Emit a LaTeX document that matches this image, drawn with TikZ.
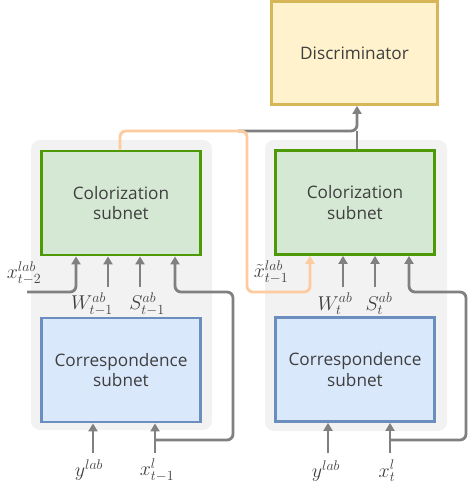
\RequirePackage{fix-cm}
\documentclass[tikz,border=0pt]{standalone}
\usepackage{fontspec}
\setmainfont{Open Sans}
\usetikzlibrary{arrows.meta,calc}
\definecolor{panelgray}{HTML}{F2F2F2}
\definecolor{gfill}{HTML}{D5E8D4}
\definecolor{gborder}{HTML}{4D9A06}
\definecolor{bfill}{HTML}{DAE8FC}
\definecolor{bborder}{HTML}{6C8EBF}
\definecolor{yfill}{HTML}{FFF2CC}
\definecolor{yborder}{HTML}{D6B656}
\definecolor{agray}{HTML}{808080}
\definecolor{orng}{HTML}{FDCB9E}
\definecolor{txt}{HTML}{3F3F3F}
\tikzset{
  panel/.style={fill=panelgray, draw=none, rounded corners=9pt},
  netbox/.style={line width=2.8pt, align=center, text=txt,
     font=\fontsize{17.2}{20.5}\selectfont, inner sep=0pt},
  greenbox/.style={netbox, draw=gborder, fill=gfill, minimum width=159pt, minimum height=104pt},
  bluebox/.style={netbox, draw=bborder, fill=bfill, minimum width=159pt, minimum height=104pt},
  discbox/.style={netbox, draw=yborder, fill=yfill, minimum width=166pt, minimum height=103pt},
  arr/.style={draw=agray, line width=2.8pt, rounded corners=6pt,
     -{Triangle[width=9pt,length=8pt]}},
  plain/.style={draw=agray, line width=2.8pt, rounded corners=6pt},
  oarr/.style={draw=orng, line width=2.8pt, rounded corners=6pt,
     -{Triangle[width=9pt,length=8pt]}},
  lab/.style={font=\fontsize{20}{24}\selectfont, inner sep=0pt, text=txt},
}
\begin{document}
\begin{tikzpicture}[x=1pt,y=-1pt]
\useasboundingbox (0,0) rectangle (468,486);
% panels
\fill[panel] (31,140) rectangle (212,430);
\fill[panel] (265,140) rectangle (447,431);
% boxes
\node[discbox] (disc) at (354.5,53) {Discriminator};
\node[greenbox] (lc) at (121,203) {Colorization\\subnet};
\node[greenbox] (rc) at (355,202.5) {Colorization\\subnet};
\node[bluebox] (lb) at (121,370) {Correspondence\\subnet};
\node[bluebox] (rb) at (355,369.5) {Correspondence\\subnet};
% labels
\node[lab] (lxt2) at (24,273) {$x^{lab}_{t-2}$};
\node[lab] (lw) at (92,304) {$W^{ab}_{t-1}$};
\node[lab] (ls) at (147,304) {$S^{ab}_{t-1}$};
\node[lab] (ly) at (89,470) {$y^{lab}$};
\node[lab] (lxl) at (157,470) {$x^{l}_{t-1}$};
\node[lab] (rxt) at (271,272) {$\tilde{x}^{lab}_{t-1}$};
\node[lab] (rw) at (335,304) {$W^{ab}_{t}$};
\node[lab] (rs) at (379,304) {$S^{ab}_{t}$};
\node[lab] (ry) at (326,471) {$y^{lab}$};
\node[lab] (rxl) at (387,471) {$x^{l}_{t}$};
% coordinates
\coordinate (lx2s) at (27,292);
\coordinate (lws) at (108,287);
\coordinate (lss) at (140,287);
\coordinate (lys) at (93,453);
\coordinate (lxs) at (155,453);
\coordinate (lj) at (155,440);
\coordinate (lk) at (233,292);
\coordinate (rws) at (343,287);
\coordinate (rss) at (375,287);
\coordinate (rys) at (328,453);
\coordinate (rxs) at (390,453);
\coordinate (rj) at (390,440);
\coordinate (rk) at (466,292);
\coordinate (gj) at (238,131);
\coordinate (om) at (247,131);
\coordinate (ob) at (310,292);
% left connectors
\draw[arr] (lx2s) -| (76,0 |- lc.south);
\draw[arr] (lws) -- (lws |- lc.south);
\draw[arr] (lss) -- (lss |- lc.south);
\draw[arr] (lys) -- (lys |- lb.south);
\draw[arr] (lxs) -- (lxs |- lb.south);
\draw[arr] (lj) -| (lk) -| (175,0 |- lc.south);
% right connectors
\draw[arr] (rws) -- (rws |- rc.south);
\draw[arr] (rss) -- (rss |- rc.south);
\draw[arr] (rys) -- (rys |- rb.south);
\draw[arr] (rxs) -- (rxs |- rb.south);
\draw[arr] (rj) -| (rk) -| (409,0 |- rc.south);
% top connectors
\draw[plain] (357,0 |- rc.north) -- (357,0 |- gj);
\draw[arr] (gj) -| (357,0 |- disc.south);
\draw[oarr] (120,0 |- lc.north) |- (om) |- (ob) -- (ob |- rc.south);
\end{tikzpicture}
\end{document}
